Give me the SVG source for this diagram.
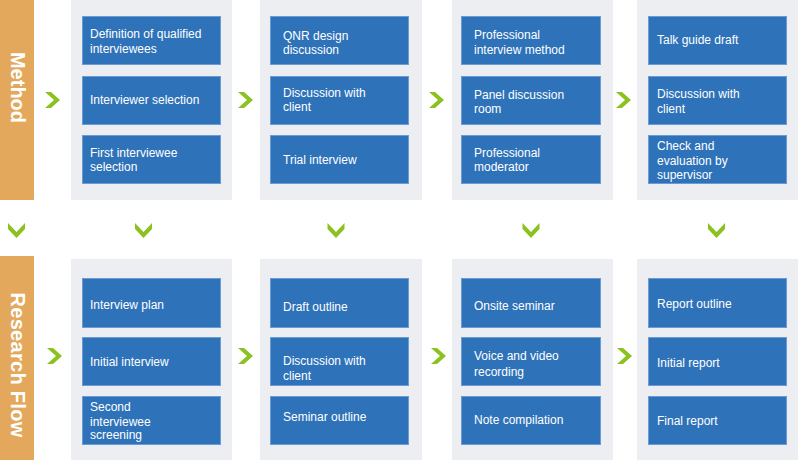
<svg xmlns="http://www.w3.org/2000/svg" width="799" height="460" viewBox="0 0 799 460">
<style>
.bar{fill:#e4a85c}
.panel{fill:#edeef2}
.box{fill:#2e72b9;stroke:#6b9bd5;stroke-width:1}
.t{font-family:"Liberation Sans",Arial,sans-serif;font-size:12px;fill:#ffffff}
.lbl{font-family:"Liberation Sans",Arial,sans-serif;font-size:20px;font-weight:bold;fill:#ffffff;text-anchor:middle}
.chev{fill:#8cc21f}
</style>
<defs>
<polygon id="chR" points="0,0 6,0 15,8 6,16 0,16 9,8"/>
<polygon id="chD" points="0,0 8.5,9 17,0 17,6 8.5,15 0,6"/>
</defs>
<rect width="799" height="460" fill="#ffffff"/>
<g id="method-bar">
<rect class="bar" x="0" y="0" width="34" height="200"/>
<text class="lbl" transform="translate(10.5,87.5) rotate(90)">Method</text>
</g>
<g id="research-bar">
<rect class="bar" x="0" y="256" width="34" height="204"/>
<text class="lbl" transform="translate(10.5,365) rotate(90)" letter-spacing="0.3">Research Flow</text>
</g>
<g id="panels">
<rect class="panel" x="71" y="0" width="161" height="200"/>
<rect class="panel" x="260" y="0" width="162" height="200"/>
<rect class="panel" x="452" y="0" width="161" height="200"/>
<rect class="panel" x="637" y="0" width="161" height="200"/>
<rect class="panel" x="71" y="259" width="161" height="201"/>
<rect class="panel" x="260" y="259" width="162" height="201"/>
<rect class="panel" x="452" y="259" width="161" height="201"/>
<rect class="panel" x="637" y="259" width="161" height="201"/>
</g>
<g id="m1a"><rect class="box" x="82.5" y="16.5" width="138" height="48"/><text class="t" x="90" y="38">Definition of qualified</text><text class="t" x="90" y="53">interviewees</text></g>
<g id="m1b"><rect class="box" x="82.5" y="76.5" width="138" height="48"/><text class="t" x="90" y="104">Interviewer selection</text></g>
<g id="m1c"><rect class="box" x="82.5" y="135.5" width="138" height="48"/><text class="t" x="90" y="157">First interviewee</text><text class="t" x="90" y="171">selection</text></g>
<g id="m2a"><rect class="box" x="270.5" y="16.5" width="138" height="48"/><text class="t" x="283" y="40">QNR design</text><text class="t" x="283" y="54">discussion</text></g>
<g id="m2b"><rect class="box" x="270.5" y="76.5" width="138" height="48"/><text class="t" x="283" y="97">Discussion with</text><text class="t" x="283" y="111">client</text></g>
<g id="m2c"><rect class="box" x="270.5" y="135.5" width="138" height="48"/><text class="t" x="283" y="164">Trial interview</text></g>
<g id="m3a"><rect class="box" x="461.5" y="16.5" width="139" height="48"/><text class="t" x="474" y="39">Professional</text><text class="t" x="474" y="54">interview method</text></g>
<g id="m3b"><rect class="box" x="461.5" y="76.5" width="139" height="48"/><text class="t" x="474" y="99">Panel discussion</text><text class="t" x="474" y="113">room</text></g>
<g id="m3c"><rect class="box" x="461.5" y="135.5" width="139" height="48"/><text class="t" x="474" y="157">Professional</text><text class="t" x="474" y="171">moderator</text></g>
<g id="m4a"><rect class="box" x="648.5" y="16.5" width="138" height="48"/><text class="t" x="657" y="44">Talk guide draft</text></g>
<g id="m4b"><rect class="box" x="648.5" y="76.5" width="138" height="48"/><text class="t" x="657" y="98">Discussion with</text><text class="t" x="657" y="113">client</text></g>
<g id="m4c"><rect class="box" x="648.5" y="135.5" width="138" height="48"/><text class="t" x="657" y="150">Check and</text><text class="t" x="657" y="165">evaluation by</text><text class="t" x="657" y="179">supervisor</text></g>
<g id="r1a"><rect class="box" x="82.5" y="278.5" width="138" height="49"/><text class="t" x="90" y="309">Interview plan</text></g>
<g id="r1b"><rect class="box" x="82.5" y="337.5" width="138" height="48"/><text class="t" x="90" y="366">Initial interview</text></g>
<g id="r1c"><rect class="box" x="82.5" y="396.5" width="138" height="48"/><text class="t" x="90" y="411">Second</text><text class="t" x="90" y="426">interviewee</text><text class="t" x="90" y="439">screening</text></g>
<g id="r2a"><rect class="box" x="270.5" y="278.5" width="138" height="49"/><text class="t" x="283" y="311">Draft outline</text></g>
<g id="r2b"><rect class="box" x="270.5" y="337.5" width="138" height="48"/><text class="t" x="283" y="365">Discussion with</text><text class="t" x="283" y="380">client</text></g>
<g id="r2c"><rect class="box" x="270.5" y="396.5" width="138" height="48"/><text class="t" x="283" y="421">Seminar outline</text></g>
<g id="r3a"><rect class="box" x="461.5" y="278.5" width="139" height="49"/><text class="t" x="474" y="310">Onsite seminar</text></g>
<g id="r3b"><rect class="box" x="461.5" y="337.5" width="139" height="48"/><text class="t" x="474" y="360">Voice and video</text><text class="t" x="474" y="376">recording</text></g>
<g id="r3c"><rect class="box" x="461.5" y="396.5" width="139" height="48"/><text class="t" x="474" y="424">Note compilation</text></g>
<g id="r4a"><rect class="box" x="648.5" y="278.5" width="138" height="49"/><text class="t" x="657" y="308">Report outline</text></g>
<g id="r4b"><rect class="box" x="648.5" y="337.5" width="138" height="48"/><text class="t" x="657" y="367">Initial report</text></g>
<g id="r4c"><rect class="box" x="648.5" y="396.5" width="138" height="48"/><text class="t" x="657" y="425">Final report</text></g>
<g id="connectors" class="chev">
<use href="#chR" x="45" y="92"/>
<use href="#chR" x="238" y="92"/>
<use href="#chR" x="429" y="92"/>
<use href="#chR" x="616" y="92"/>
<use href="#chR" x="47" y="348"/>
<use href="#chR" x="238" y="348"/>
<use href="#chR" x="431" y="348"/>
<use href="#chR" x="617" y="348"/>
<use href="#chD" x="8" y="223"/>
<use href="#chD" x="135" y="223"/>
<use href="#chD" x="327.5" y="223"/>
<use href="#chD" x="522.5" y="223"/>
<use href="#chD" x="708" y="223"/>
</g>
</svg>
